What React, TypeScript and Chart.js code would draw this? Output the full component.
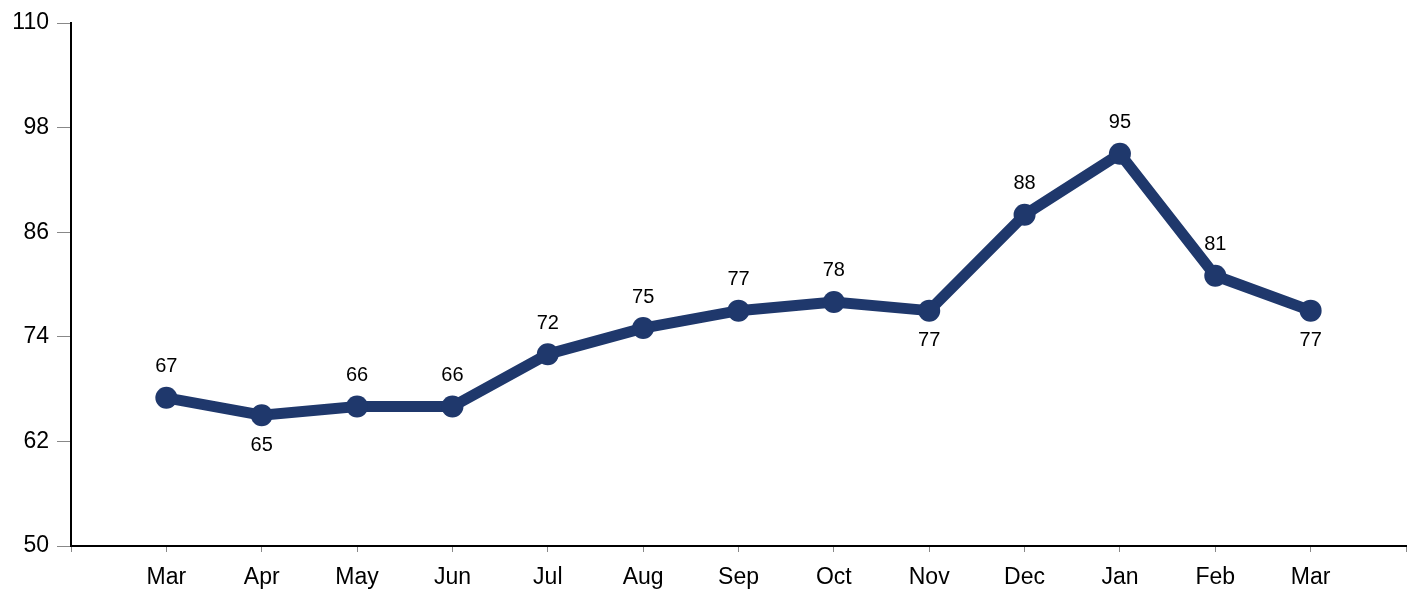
import { useEffect, useRef } from "react";
import { Chart, registerables, type ChartConfiguration, type Plugin } from "chart.js";

Chart.register(...registerables);

const months = ["Mar", "Apr", "May", "Jun", "Jul", "Aug", "Sep", "Oct", "Nov", "Dec", "Jan", "Feb", "Mar"];
const values = [67, 65, 66, 66, 72, 75, 77, 78, 77, 88, 95, 81, 77];
const labelSide = ["up", "down", "up", "up", "up", "up", "up", "up", "down", "up", "up", "up", "down"];
const yTicks = [50, 62, 74, 86, 98, 110];

const LINE = "#1f386c";
const FONT = "'Liberation Sans', Arial, sans-serif";

const valueLabels: Plugin<"line"> = {
  id: "valueLabels",
  afterDatasetsDraw(chart) {
    const { ctx } = chart;
    const meta = chart.getDatasetMeta(0);
    ctx.save();
    ctx.font = `20px ${FONT}`;
    ctx.fillStyle = "#000";
    ctx.textAlign = "center";
    ctx.textBaseline = "middle";
    meta.data.forEach((pt, i) => {
      const idx = i - 1;
      if (idx < 0 || idx >= values.length) return;
      const off = labelSide[idx] === "down" ? 30 : -31;
      ctx.fillText(String(values[idx]), pt.x, pt.y + off);
    });
    ctx.restore();
  },
};

export default function App() {
  const canvasRef = useRef<HTMLCanvasElement | null>(null);
  const chartRef = useRef<Chart | null>(null);

  useEffect(() => {
    const el = canvasRef.current;
    if (!el) return;
    chartRef.current?.destroy();

    const cfg: ChartConfiguration<"line"> = {
      type: "line",
      data: {
        labels: ["", ...months, ""],
        datasets: [
          {
            data: [null, ...values, null],
            borderColor: LINE,
            backgroundColor: LINE,
            borderWidth: 11,
            pointRadius: 11,
            pointBackgroundColor: LINE,
            pointBorderWidth: 0,
            tension: 0,
            fill: false,
          },
        ],
      },
      options: {
        animation: false,
        responsive: true,
        maintainAspectRatio: false,
        layout: { padding: { top: 23, right: 4, left: 0, bottom: 0 } },
        plugins: {
          legend: { display: false },
          tooltip: { enabled: false },
        },
        scales: {
          x: {
            type: "category",
            offset: false,
            grid: {
              drawOnChartArea: false,
              drawTicks: true,
              tickLength: 6,
              tickColor: "#888",
            },
            border: { color: "#000", width: 2 },
            ticks: {
              font: { family: FONT, size: 23 },
              color: "#000",
              padding: 12,
              maxRotation: 0,
              autoSkip: false,
            },
            afterFit: (s) => {
              s.height = 45;
              s.paddingLeft = 0;
              s.paddingRight = 0;
            },
          },
          y: {
            min: 50,
            max: 110,
            afterBuildTicks: (s) => {
              s.ticks = yTicks.map((v) => ({ value: v }));
            },
            grid: {
              drawOnChartArea: false,
              tickLength: 14,
              tickColor: "#888",
            },
            border: { color: "#000", width: 2 },
            ticks: {
              font: { family: FONT, size: 23 },
              color: "#000",
              padding: 8,
            },
            afterFit: (s) => {
              s.width = 71;
            },
          },
        },
      },
      plugins: [valueLabels],
    };

    chartRef.current = new Chart(el, cfg);
    return () => {
      chartRef.current?.destroy();
      chartRef.current = null;
    };
  }, []);

  return (
    <div style={{ position: "fixed", left: 0, top: 0, width: 1417, height: 591, background: "#fff" }}>
      <canvas ref={canvasRef} />
    </div>
  );
}
